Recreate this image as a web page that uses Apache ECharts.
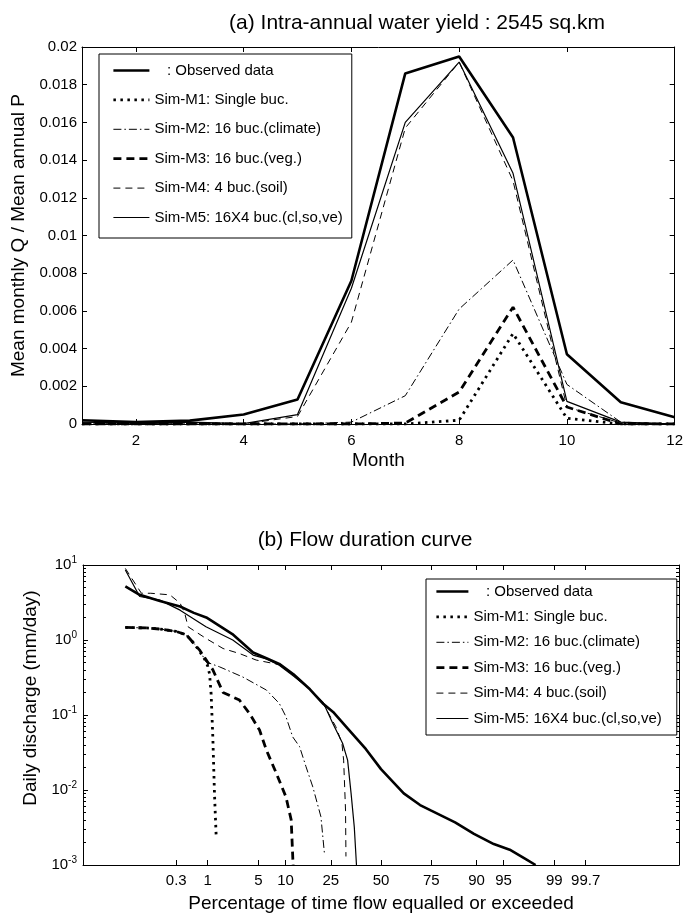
<!DOCTYPE html>
<html>
<head>
<meta charset="utf-8">
<script src="https://cdn.jsdelivr.net/npm/echarts@6.0.0/dist/echarts.min.js"></script>
<style>
html, body { margin: 0; padding: 0; background: #fff; }
#chart { width: 686px; height: 915px; }
</style>
</head>
<body>
<div id="chart"></div>
<script>
// (a) intra-annual water yield, mean monthly Q / mean annual P
const months = [1, 2, 3, 4, 5, 6, 7, 8, 9, 10, 11, 12];
const obsMonthly = [0.0002, 0.0001, 0.00018, 0.0005, 0.0013, 0.0076, 0.0186, 0.0195, 0.0152, 0.0037, 0.00115, 0.00036];
const m1Monthly = [0, 0, 0, 0, 0, 0, 0, 0.0002, 0.0048, 0.0003, 0, 0];
const m2Monthly = [0, 0, 0, 0, 0, 0.0001, 0.0015, 0.0061, 0.0087, 0.0021, 0.0001, 0];
const m3Monthly = [0, 0, 0, 0, 0, 0, 0.00005, 0.0017, 0.0062, 0.0009, 0, 0];
const m4Monthly = [0.00005, 0.00002, 0.00005, 0, 0.0004, 0.0054, 0.0157, 0.0192, 0.0129, 0.0009, 0.00005, 0];
const m5Monthly = [0.0001, 0.00005, 0.0001, 0.00002, 0.0005, 0.0072, 0.0160, 0.0192, 0.0133, 0.0012, 0.0001, 0];

// (b) flow duration curve: % of time exceeded, daily discharge (mm/day)
const obsPct = [0.03, 0.06, 0.15, 0.35, 0.6, 0.95, 2.3, 4.3, 6.2, 8.6, 12, 17, 22, 26, 33, 42, 50, 55, 62, 70, 75, 84, 89.4, 93.5, 95.8, 97.4, 98.1];
const obsQ = [5.2, 4.0, 3.3, 2.8, 2.3, 2.0, 1.2, 0.68, 0.57, 0.48, 0.35, 0.22, 0.14, 0.11, 0.065, 0.035, 0.019, 0.014, 0.009, 0.0063, 0.0053, 0.0037, 0.0026, 0.0019, 0.0016, 0.0012, 0.001];
const m1Pct = [0.03, 0.08, 0.15, 0.3, 0.45, 0.6, 0.75, 0.9, 1.0, 1.07, 1.13, 1.2, 1.27, 1.35];
const m1Q = [1.47, 1.45, 1.4, 1.3, 1.17, 0.9, 0.7, 0.55, 0.45, 0.35, 0.19, 0.05, 0.009, 0.0023];
const m2Pct = [0.03, 0.08, 0.15, 0.3, 0.45, 0.74, 0.94, 1.5, 1.9, 3.2, 6.2, 8.6, 10.1, 11.8, 13.7, 15.7, 18, 21, 22.4];
const m2Q = [1.47, 1.45, 1.4, 1.3, 1.17, 0.74, 0.51, 0.44, 0.4, 0.32, 0.215, 0.143, 0.095, 0.051, 0.038, 0.0205, 0.011, 0.0044, 0.0014];
const m3Pct = [0.03, 0.08, 0.15, 0.3, 0.45, 0.74, 1.2, 1.7, 2.87, 3.87, 5.15, 6.2, 8.0, 10.1, 11.4, 11.9];
const m3Q = [1.47, 1.45, 1.4, 1.3, 1.17, 0.74, 0.4, 0.2, 0.158, 0.105, 0.063, 0.034, 0.0167, 0.0081, 0.004, 0.001];
const m4Pct = [0.03, 0.065, 0.1, 0.23, 0.35, 0.42, 0.48, 0.94, 1.7, 2.87, 4.7, 8.6, 12, 17, 22, 27.2, 30, 30.8, 31.7, 31.9];
const m4Q = [9.0, 4.2, 4.2, 4.0, 3.1, 2.3, 1.5, 1.05, 0.77, 0.66, 0.54, 0.47, 0.34, 0.22, 0.14, 0.07, 0.042, 0.025, 0.0054, 0.0013];
const m5Pct = [0.03, 0.06, 0.15, 0.35, 0.94, 2.33, 4.3, 6.2, 8.6, 12, 17, 22, 25.8, 30.3, 32.7, 34.4, 36, 37.1];
const m5Q = [8.6, 3.8, 3.4, 2.5, 1.5, 1.0, 0.63, 0.56, 0.46, 0.33, 0.22, 0.145, 0.078, 0.042, 0.025, 0.009, 0.0032, 0.001];

const probTicks = [0.3, 1, 5, 10, 25, 50, 75, 90, 95, 99, 99.7];
const logMajor = [0.001, 0.01, 0.1, 1, 10];

const names = ['   : Observed data', 'Sim-M1: Single buc.', 'Sim-M2: 16 buc.(climate)',
  'Sim-M3: 16 buc.(veg.)', 'Sim-M4: 4 buc.(soil)', 'Sim-M5: 16X4 buc.(cl,so,ve)'];
const styles = [
  { width: 2.6, type: 'solid' },
  { width: 2.8, type: [2.5, 4.5] },
  { width: 1, type: [8, 3, 1.5, 3] },
  { width: 2.8, type: [8, 5] },
  { width: 1, type: [7, 5] },
  { width: 1.2, type: 'solid' }
];

// inverse standard normal cdf (probability paper axis)
function probit(p) {
  const a = [-39.69683028665376, 220.9460984245205, -275.9285104469687, 138.3577518672690, -30.66479806614716, 2.506628277459239];
  const b = [-54.47609879822406, 161.5858368580409, -155.6989798598866, 66.80131188771972, -13.28068155288572];
  const c = [-0.007784894002430293, -0.3223964580411365, -2.400758277161838, -2.549732539343734, 4.374664141464968, 2.938163982698783];
  const d = [0.007784695709041462, 0.3224671290700398, 2.445134137142996, 3.754408661907416];
  const pl = 0.02425;
  let q, r;
  if (p < pl) {
    q = Math.sqrt(-2 * Math.log(p));
    return (((((c[0] * q + c[1]) * q + c[2]) * q + c[3]) * q + c[4]) * q + c[5]) / ((((d[0] * q + d[1]) * q + d[2]) * q + d[3]) * q + 1);
  }
  if (p > 1 - pl) {
    q = Math.sqrt(-2 * Math.log(1 - p));
    return -(((((c[0] * q + c[1]) * q + c[2]) * q + c[3]) * q + c[4]) * q + c[5]) / ((((d[0] * q + d[1]) * q + d[2]) * q + d[3]) * q + 1);
  }
  q = p - 0.5;
  r = q * q;
  return (((((a[0] * r + a[1]) * r + a[2]) * r + a[3]) * r + a[4]) * r + a[5]) * q / (((((b[0] * r + b[1]) * r + b[2]) * r + b[3]) * r + b[4]) * r + 1);
}

const probTickZ = probTicks.map(t => probit(t / 100));
const logMinor = [];
for (let k = -3; k < 1; k++) {
  for (let m = 2; m <= 9; m++) logMinor.push(+(m * Math.pow(10, k)).toPrecision(3));
}

const font = 'Liberation Sans, Arial, Helvetica, sans-serif';
const black = '#000';
const axisLine = { show: true, onZero: false, lineStyle: { color: black, width: 1 } };
const tick = { show: true, inside: true, length: 5, lineStyle: { color: black } };
const label = { color: black, fontSize: 15, fontFamily: font };
const nameStyle = { color: black, fontSize: 19, fontFamily: font };

const chart = echarts.init(document.getElementById('chart'));

const monthlySets = [obsMonthly, m1Monthly, m2Monthly, m3Monthly, m4Monthly, m5Monthly];
const fdcSets = [[obsPct, obsQ], [m1Pct, m1Q], [m2Pct, m2Q], [m3Pct, m3Q], [m4Pct, m4Q], [m5Pct, m5Q]];

const series = [];
monthlySets.forEach((vals, i) => {
  series.push({
    name: names[i], type: 'line', xAxisIndex: 0, yAxisIndex: 0,
    data: months.map((m, j) => [m, vals[j]]),
    symbol: 'none', z: 10 - i,
    lineStyle: { color: black, width: styles[i].width, type: styles[i].type }
  });
});
fdcSets.forEach((s, i) => {
  series.push({
    name: names[i], type: 'line', xAxisIndex: 2, yAxisIndex: 2,
    data: s[0].map((p, j) => [probit(p / 100), s[1][j]]),
    symbol: 'none', z: 10 - i,
    lineStyle: { color: black, width: styles[i].width, type: styles[i].type }
  });
});

const legendData = names.map((n, i) => ({
  name: n,
  lineStyle: { color: black, width: styles[i].width, type: styles[i].type }
}));
const legendBase = {
  orient: 'vertical', data: legendData, itemHeight: 16,
  borderColor: black, borderWidth: 1, backgroundColor: '#fff',
  itemStyle: { opacity: 0 },
  textStyle: { color: black, fontSize: 15, fontFamily: font },
  selectedMode: false
};

chart.setOption({
  animation: false,
  backgroundColor: '#fff',
  title: [
    { text: '(a) Intra-annual water yield : 2545 sq.km', left: 412, top: 8, textAlign: 'center',
      textStyle: { color: black, fontSize: 21, fontWeight: 'normal', fontFamily: font } },
    { text: '(b) Flow duration curve', left: 360, top: 525, textAlign: 'center',
      textStyle: { color: black, fontSize: 21, fontWeight: 'normal', fontFamily: font } }
  ],
  grid: [
    { left: 82, top: 47, width: 596, height: 377 },
    { left: 83, top: 565, width: 596, height: 300 }
  ],
  legend: [
    Object.assign({}, legendBase, { left: 99, top: 54, itemWidth: 36, itemGap: 14.4, padding: [9, 9, 13, 13] }),
    Object.assign({}, legendBase, { left: 426, top: 579, itemWidth: 32, itemGap: 10.4, padding: [5, 15, 9, 9] })
  ],
  xAxis: [
    { gridIndex: 0, type: 'value', min: 1, max: 12, position: 'bottom',
      axisLine, axisTick: Object.assign({}, tick, { customValues: [2, 4, 6, 8, 10, 12] }),
      axisLabel: Object.assign({}, label, { customValues: [2, 4, 6, 8, 10, 12], margin: 9 }),
      splitLine: { show: false },
      name: 'Month', nameLocation: 'middle', nameGap: 27, nameTextStyle: nameStyle },
    { gridIndex: 0, type: 'value', min: 1, max: 12, position: 'top',
      axisLine, axisTick: Object.assign({}, tick, { customValues: [2, 4, 6, 8, 10, 12] }),
      axisLabel: { show: false }, splitLine: { show: false } },
    { gridIndex: 1, type: 'value', min: -4, max: 4, position: 'bottom',
      axisLine, axisTick: Object.assign({}, tick, { customValues: probTickZ }),
      axisLabel: Object.assign({}, label, {
        customValues: probTickZ, margin: 8,
        formatter: v => {
          let best = 0;
          probTickZ.forEach((z, i) => { if (Math.abs(z - v) < Math.abs(probTickZ[best] - v)) best = i; });
          return String(probTicks[best]);
        }
      }),
      splitLine: { show: false },
      name: 'Percentage of time flow equalled or exceeded', nameLocation: 'middle', nameGap: 29, nameTextStyle: nameStyle },
    { gridIndex: 1, type: 'value', min: -4, max: 4, position: 'top',
      axisLine, axisTick: Object.assign({}, tick, { customValues: probTickZ }),
      axisLabel: { show: false }, splitLine: { show: false } }
  ],
  yAxis: [
    { gridIndex: 0, type: 'value', min: 0, max: 0.02, interval: 0.002, position: 'left',
      axisLine, axisTick: tick,
      axisLabel: Object.assign({}, label, { margin: 5, formatter: v => String(+v.toFixed(3)) }),
      splitLine: { show: false },
      name: 'Mean monthly Q / Mean annual P', nameLocation: 'middle', nameGap: 53, nameTextStyle: nameStyle },
    { gridIndex: 0, type: 'value', min: 0, max: 0.02, interval: 0.002, position: 'right',
      axisLine, axisTick: tick, axisLabel: { show: false }, splitLine: { show: false } },
    { gridIndex: 1, type: 'log', logBase: 10, min: 0.001, max: 10, position: 'left',
      axisLine, axisTick: Object.assign({}, tick, { customValues: logMajor }),
      axisLabel: Object.assign({}, label, {
        customValues: logMajor, margin: 6,
        formatter: v => '{b|10}{s|' + Math.round(Math.log10(v)) + '}',
        rich: {
          b: { color: black, fontSize: 15, fontFamily: font },
          s: { color: black, fontSize: 10, fontFamily: font, padding: [0, 0, 10, 0] }
        }
      }),
      splitLine: { show: false },
      name: 'Daily discharge (mm/day)', nameLocation: 'middle', nameGap: 38,
      nameTextStyle: Object.assign({}, nameStyle, { padding: [0, 0, 0, 34] }) },
    { gridIndex: 1, type: 'log', logBase: 10, min: 0.001, max: 10, position: 'right',
      axisLine, axisTick: Object.assign({}, tick, { customValues: logMajor }),
      axisLabel: { show: false }, splitLine: { show: false } },
    { gridIndex: 1, type: 'log', logBase: 10, min: 0.001, max: 10, position: 'left',
      axisLine: { show: false, onZero: false }, axisTick: Object.assign({}, tick, { length: 3, customValues: logMinor }),
      axisLabel: { show: false }, splitLine: { show: false } },
    { gridIndex: 1, type: 'log', logBase: 10, min: 0.001, max: 10, position: 'right',
      axisLine: { show: false, onZero: false }, axisTick: Object.assign({}, tick, { length: 3, customValues: logMinor }),
      axisLabel: { show: false }, splitLine: { show: false } }
  ],
  series
});
</script>
</body>
</html>
